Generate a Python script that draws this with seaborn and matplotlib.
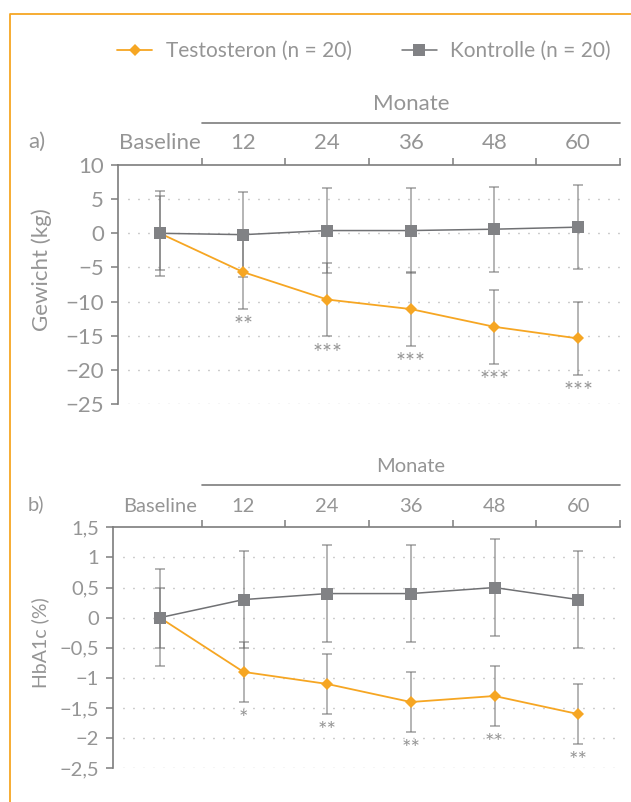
import matplotlib
matplotlib.use("Agg")
import matplotlib.pyplot as plt
from matplotlib.lines import Line2D
import numpy as np
import pandas as pd
import seaborn as sns

# ---- data -------------------------------------------------------------
months = ["Baseline", "12", "24", "36", "48", "60"]

weight_testo = [0.0, -5.7, -9.7, -11.1, -13.7, -15.4]
weight_testo_sd = [5.4, 5.4, 5.4, 5.4, 5.4, 5.4]
weight_ctrl = [0.0, -0.2, 0.4, 0.4, 0.6, 0.9]
weight_ctrl_sd = [6.2, 6.2, 6.2, 6.2, 6.2, 6.2]
weight_stars = ["", "**", "***", "***", "***", "***"]

hba1c_testo = [0.0, -0.9, -1.1, -1.4, -1.3, -1.6]
hba1c_testo_sd = [0.5, 0.5, 0.5, 0.5, 0.5, 0.5]
hba1c_ctrl = [0.0, 0.3, 0.4, 0.4, 0.5, 0.3]
hba1c_ctrl_sd = [0.8, 0.8, 0.8, 0.8, 0.8, 0.8]
hba1c_stars = ["", "*", "**", "**", "**", "**"]

weight_yticks = [-25, -20, -15, -10, -5, 0, 5, 10]
weight_ylabels = ["\u221225", "\u221220", "\u221215", "\u221210", "\u22125", "0", "5", "10"]
hba1c_yticks = [-2.5, -2.0, -1.5, -1.0, -0.5, 0.0, 0.5, 1.0, 1.5]
hba1c_ylabels = ["\u22122,5", "\u22122", "\u22121,5", "\u22121", "\u22120,5", "0", "0,5", "1", "1,5"]

label_testo = "Testosteron (n = 20)"
label_ctrl = "Kontrolle (n = 20)"

# ---- style ------------------------------------------------------------
sns.set_theme(style="white")
plt.rcParams["font.family"] = ["Lato", "DejaVu Sans"]
plt.rcParams["font.weight"] = "normal"

ORANGE = "#F6A623"
SQUARE_GRAY = "#818285"
LINE_GRAY = "#707174"
ERR_GRAY = "#6f6f6f"
AXIS_GRAY = "#7d7d7d"
TEXT_GRAY = "#959595"
DOT_GRAY = "#9a9a9a"

W, H = 631, 802
fig = plt.figure(figsize=(W / 100, H / 100), dpi=100)
fig.patch.set_facecolor("white")

# orange frame (top and left edge)
fig.add_artist(Line2D([10 / W, 10 / W, 1.0], [0.0, 1 - 14 / H, 1 - 14 / H],
                      transform=fig.transFigure, color=ORANGE, lw=1.3))


def draw_panel(ax, testo, testo_sd, ctrl, ctrl_sd, stars, yticks, ylabels,
               ylim, xleft, fs, star_fs, panel_tag, ylabel, ylabel_xy,
               tag_x, ylabel_fs):
    x = np.arange(len(months))
    df_t = pd.DataFrame({"pos": x, "value": testo})
    df_c = pd.DataFrame({"pos": x, "value": ctrl})

    # dotted guide lines
    for yv in yticks[:-1]:
        ax.axhline(yv, xmin=0.02, xmax=1.0, color=DOT_GRAY, lw=1.0,
                   linestyle=(0, (0.7, 6.5)), zorder=0)

    # error bars (standard deviation)
    ax.errorbar(x, ctrl, yerr=ctrl_sd, fmt="none", ecolor=ERR_GRAY,
                alpha=0.6, elinewidth=1.2, capsize=3.5, capthick=1.2, zorder=2)
    ax.errorbar(x, testo, yerr=testo_sd, fmt="none", ecolor=ERR_GRAY,
                alpha=0.6, elinewidth=1.2, capsize=3.5, capthick=1.2, zorder=2)

    sns.lineplot(data=df_t, x="pos", y="value", ax=ax, color=ORANGE, lw=1.3,
                 marker="D", markersize=6.4, markeredgewidth=0,
                 markerfacecolor=ORANGE, label=label_testo, zorder=3)
    sns.lineplot(data=df_c, x="pos", y="value", ax=ax, color=LINE_GRAY, lw=1.1,
                 marker="s", markersize=9.0, markeredgewidth=0,
                 markerfacecolor=SQUARE_GRAY, label=label_ctrl, zorder=4)

    # significance markers below the lower whisker
    for i, s in enumerate(stars):
        if s:
            ax.annotate(s, xy=(i, testo[i] - testo_sd[i]), xytext=(0, -12),
                        textcoords="offset points", ha="center", va="center",
                        fontsize=star_fs, color=TEXT_GRAY)

    ax.set_xlim(xleft, len(months) - 0.5)
    ax.set_ylim(*ylim)
    ax.set_xlabel("")
    ax.set_ylabel("")

    # top axis with category boundaries
    ax.set_xticks(np.arange(len(months)) + 0.5)
    ax.set_xticklabels([])
    ax.set_xticks(np.arange(len(months)), minor=True)
    ax.set_xticklabels(months, minor=True)
    ax.tick_params(axis="x", which="major", top=True, bottom=False,
                   labeltop=False, labelbottom=False, direction="out",
                   length=5, width=1.1, color=AXIS_GRAY)
    ax.tick_params(axis="x", which="minor", top=True, bottom=False,
                   labeltop=True, labelbottom=False, length=0, pad=8.5,
                   labelsize=fs, labelcolor=TEXT_GRAY)

    ax.set_yticks(yticks)
    ax.set_yticklabels(ylabels)
    ax.tick_params(axis="y", which="major", left=True, direction="out",
                   length=5, width=1.1, color=AXIS_GRAY, pad=5,
                   labelsize=fs, labelcolor=TEXT_GRAY)

    for side in ("bottom", "right"):
        ax.spines[side].set_visible(False)
    for side in ("top", "left"):
        ax.spines[side].set_visible(True)
        ax.spines[side].set_color(AXIS_GRAY)
        ax.spines[side].set_linewidth(1.2)

    if ax.get_legend() is not None:
        ax.get_legend().remove()

    # "Monate" header with rule
    h_px = ax.get_position().height * H
    ax.plot([0.5, len(months) - 0.5], [1 + 42.5 / h_px] * 2,
            transform=ax.get_xaxis_transform(), color=AXIS_GRAY, lw=1.2,
            clip_on=False)
    ax.text(3.0, 1 + 61 / h_px, "Monate", transform=ax.get_xaxis_transform(),
            ha="center", va="center", fontsize=fs, color=TEXT_GRAY)

    # panel tag and axis title
    top_px = (1 - ax.get_position().y1) * H
    fig.text(tag_x / W, 1 - (top_px - 23) / H, panel_tag, ha="left",
             va="center", fontsize=fs, color=TEXT_GRAY)
    fig.text(ylabel_xy[0] / W, 1 - ylabel_xy[1] / H, ylabel, rotation=90,
             ha="center", va="center", fontsize=ylabel_fs, color=TEXT_GRAY)


cat_px = 502 / len(months)

ax_a = fig.add_axes([118 / W, 1 - 404 / H, 502 / W, 239 / H])
draw_panel(ax_a, weight_testo, weight_testo_sd, weight_ctrl, weight_ctrl_sd,
           weight_stars, weight_yticks, weight_ylabels, (-25, 10), -0.5,
           16, 17, "a)", "Gewicht (kg)", (42, 270), 28, 16)

ax_b = fig.add_axes([113 / W, 1 - 768.3 / H, 507 / W, 241 / H])
draw_panel(ax_b, hba1c_testo, hba1c_testo_sd, hba1c_ctrl, hba1c_ctrl_sd,
           hba1c_stars, hba1c_yticks, hba1c_ylabels, (-2.5, 1.5),
           -0.5 - 5 / cat_px, 14.5, 16, "b)", "HbA1c (%)", (40, 643), 28, 14)

# shared legend
handles = [
    Line2D([], [], color=ORANGE, lw=1.3, marker="D", markersize=6.4,
           markeredgewidth=0),
    Line2D([], [], color=LINE_GRAY, lw=1.1, marker="s", markersize=9.0,
           markeredgewidth=0, markerfacecolor=SQUARE_GRAY),
]
leg = fig.legend(handles, [label_testo, label_ctrl], loc="center left",
                 bbox_to_anchor=(117 / W, 1 - 51 / H), ncol=2, frameon=False,
                 borderpad=0, borderaxespad=0, handlelength=1.68,
                 handletextpad=0.65, columnspacing=2.4, fontsize=15)
for t in leg.get_texts():
    t.set_color(TEXT_GRAY)

fig.savefig("out.png", dpi=100, facecolor="white")
